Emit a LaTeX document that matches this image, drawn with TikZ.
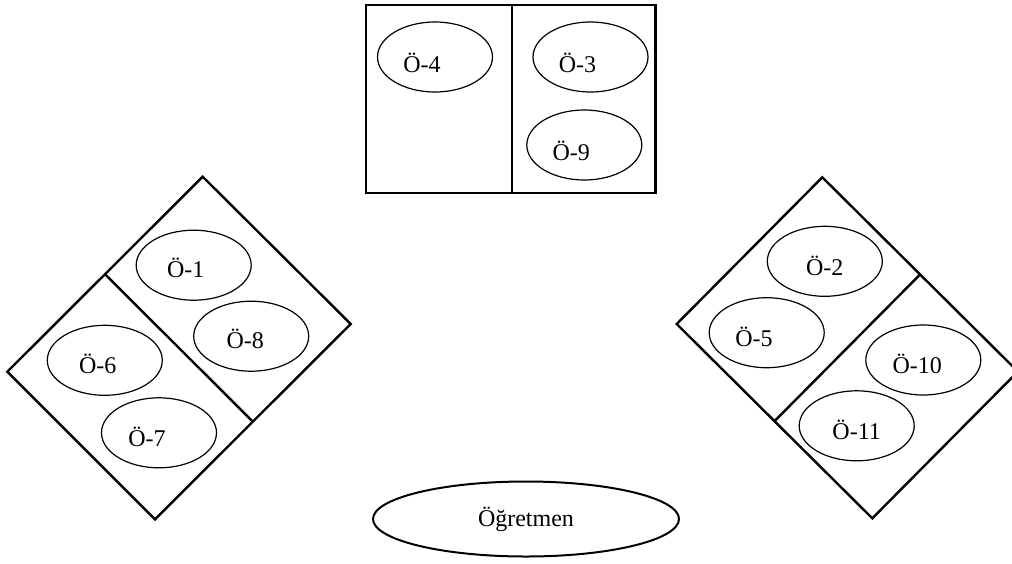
\documentclass[tikz,border=0pt]{standalone}
\usepackage{fontspec}
\setmainfont{Liberation Serif}
\usetikzlibrary{shapes.geometric,calc}

\begin{document}
\begin{tikzpicture}[
        x=0.5pt, y=-0.5pt,
        font=\fontsize{12}{14}\selectfont,
        desk/.style={line width=1.2pt, line join=miter},
        seat/.style={ellipse, draw, line width=0.6pt, minimum width=57.5pt, minimum height=35pt, inner sep=0pt},
        teacher/.style={ellipse, draw, line width=1pt, minimum width=153pt, minimum height=37.5pt}
    ]
        \clip (0,0) rectangle (1012,563);

        % Top desk
        \coordinate (topA) at (366,5);
        \coordinate (topB) at (655.5,193);
        \draw[desk] (topA) rectangle (topB);
        \draw[desk] (511.7,5) -- (511.7,193);
        \node[seat, label={[shift={(-13,6)}]center:Ö-4}] (s4) at (435,57) {};
        \node[seat, label={[shift={(-13,6)}]center:Ö-3}] (s3) at (590.5,57) {};
        \node[seat, label={[shift={(-13,6)}]center:Ö-9}] (s9) at (584.3,145) {};

        % Left desk
        \coordinate (lTop) at (202.7,176.7);
        \coordinate (lRight) at (350.7,324);
        \coordinate (lBottom) at (155,519.3);
        \coordinate (lLeft) at (7.3,371.7);
        \draw[desk] (lTop) -- (lRight) -- (lBottom) -- (lLeft) -- cycle;
        \draw[desk] ($(lTop)!0.5!(lLeft)$) -- ($(lRight)!0.5!(lBottom)$);
        \node[seat, label={[shift={(-8,3)}]center:Ö-1}] (s1) at (193.7,265.2) {};
        \node[seat, label={[shift={(-6,3)}]center:Ö-8}] (s8) at (251.2,336.2) {};
        \node[seat, label={[shift={(-7,4)}]center:Ö-6}] (s6) at (104.8,360.3) {};
        \node[seat, label={[shift={(-12,4)}]center:Ö-7}] (s7) at (159,432.8) {};

        % Right desk
        \coordinate (rTop) at (822.3,177.3);
        \coordinate (rLeft) at (676.7,324);
        \coordinate (rBottom) at (872.3,518.3);
        \coordinate (rRight) at (1017.9,371.6);
        \draw[desk] (rTop) -- (rRight) -- (rBottom) -- (rLeft) -- cycle;
        \draw[desk] ($(rTop)!0.5!(rRight)$) -- ($(rLeft)!0.5!(rBottom)$);
        \node[seat, label={[shift={(0,5)}]center:Ö-2}] (s2) at (824.8,261.3) {};
        \node[seat, label={[shift={(-12.7,4)}]center:Ö-5}] (s5) at (766.7,332.7) {};
        \node[seat, label={[shift={(-6,4)}]center:Ö-10}] (s10) at (923.3,360) {};
        \node[seat, label={[shift={(0,4)}]center:Ö-11}] (s11) at (856.7,425.8) {};

        % Teacher
        \node[teacher] (teacher) at (526,519) {Öğretmen};
    \end{tikzpicture}
\end{document}
